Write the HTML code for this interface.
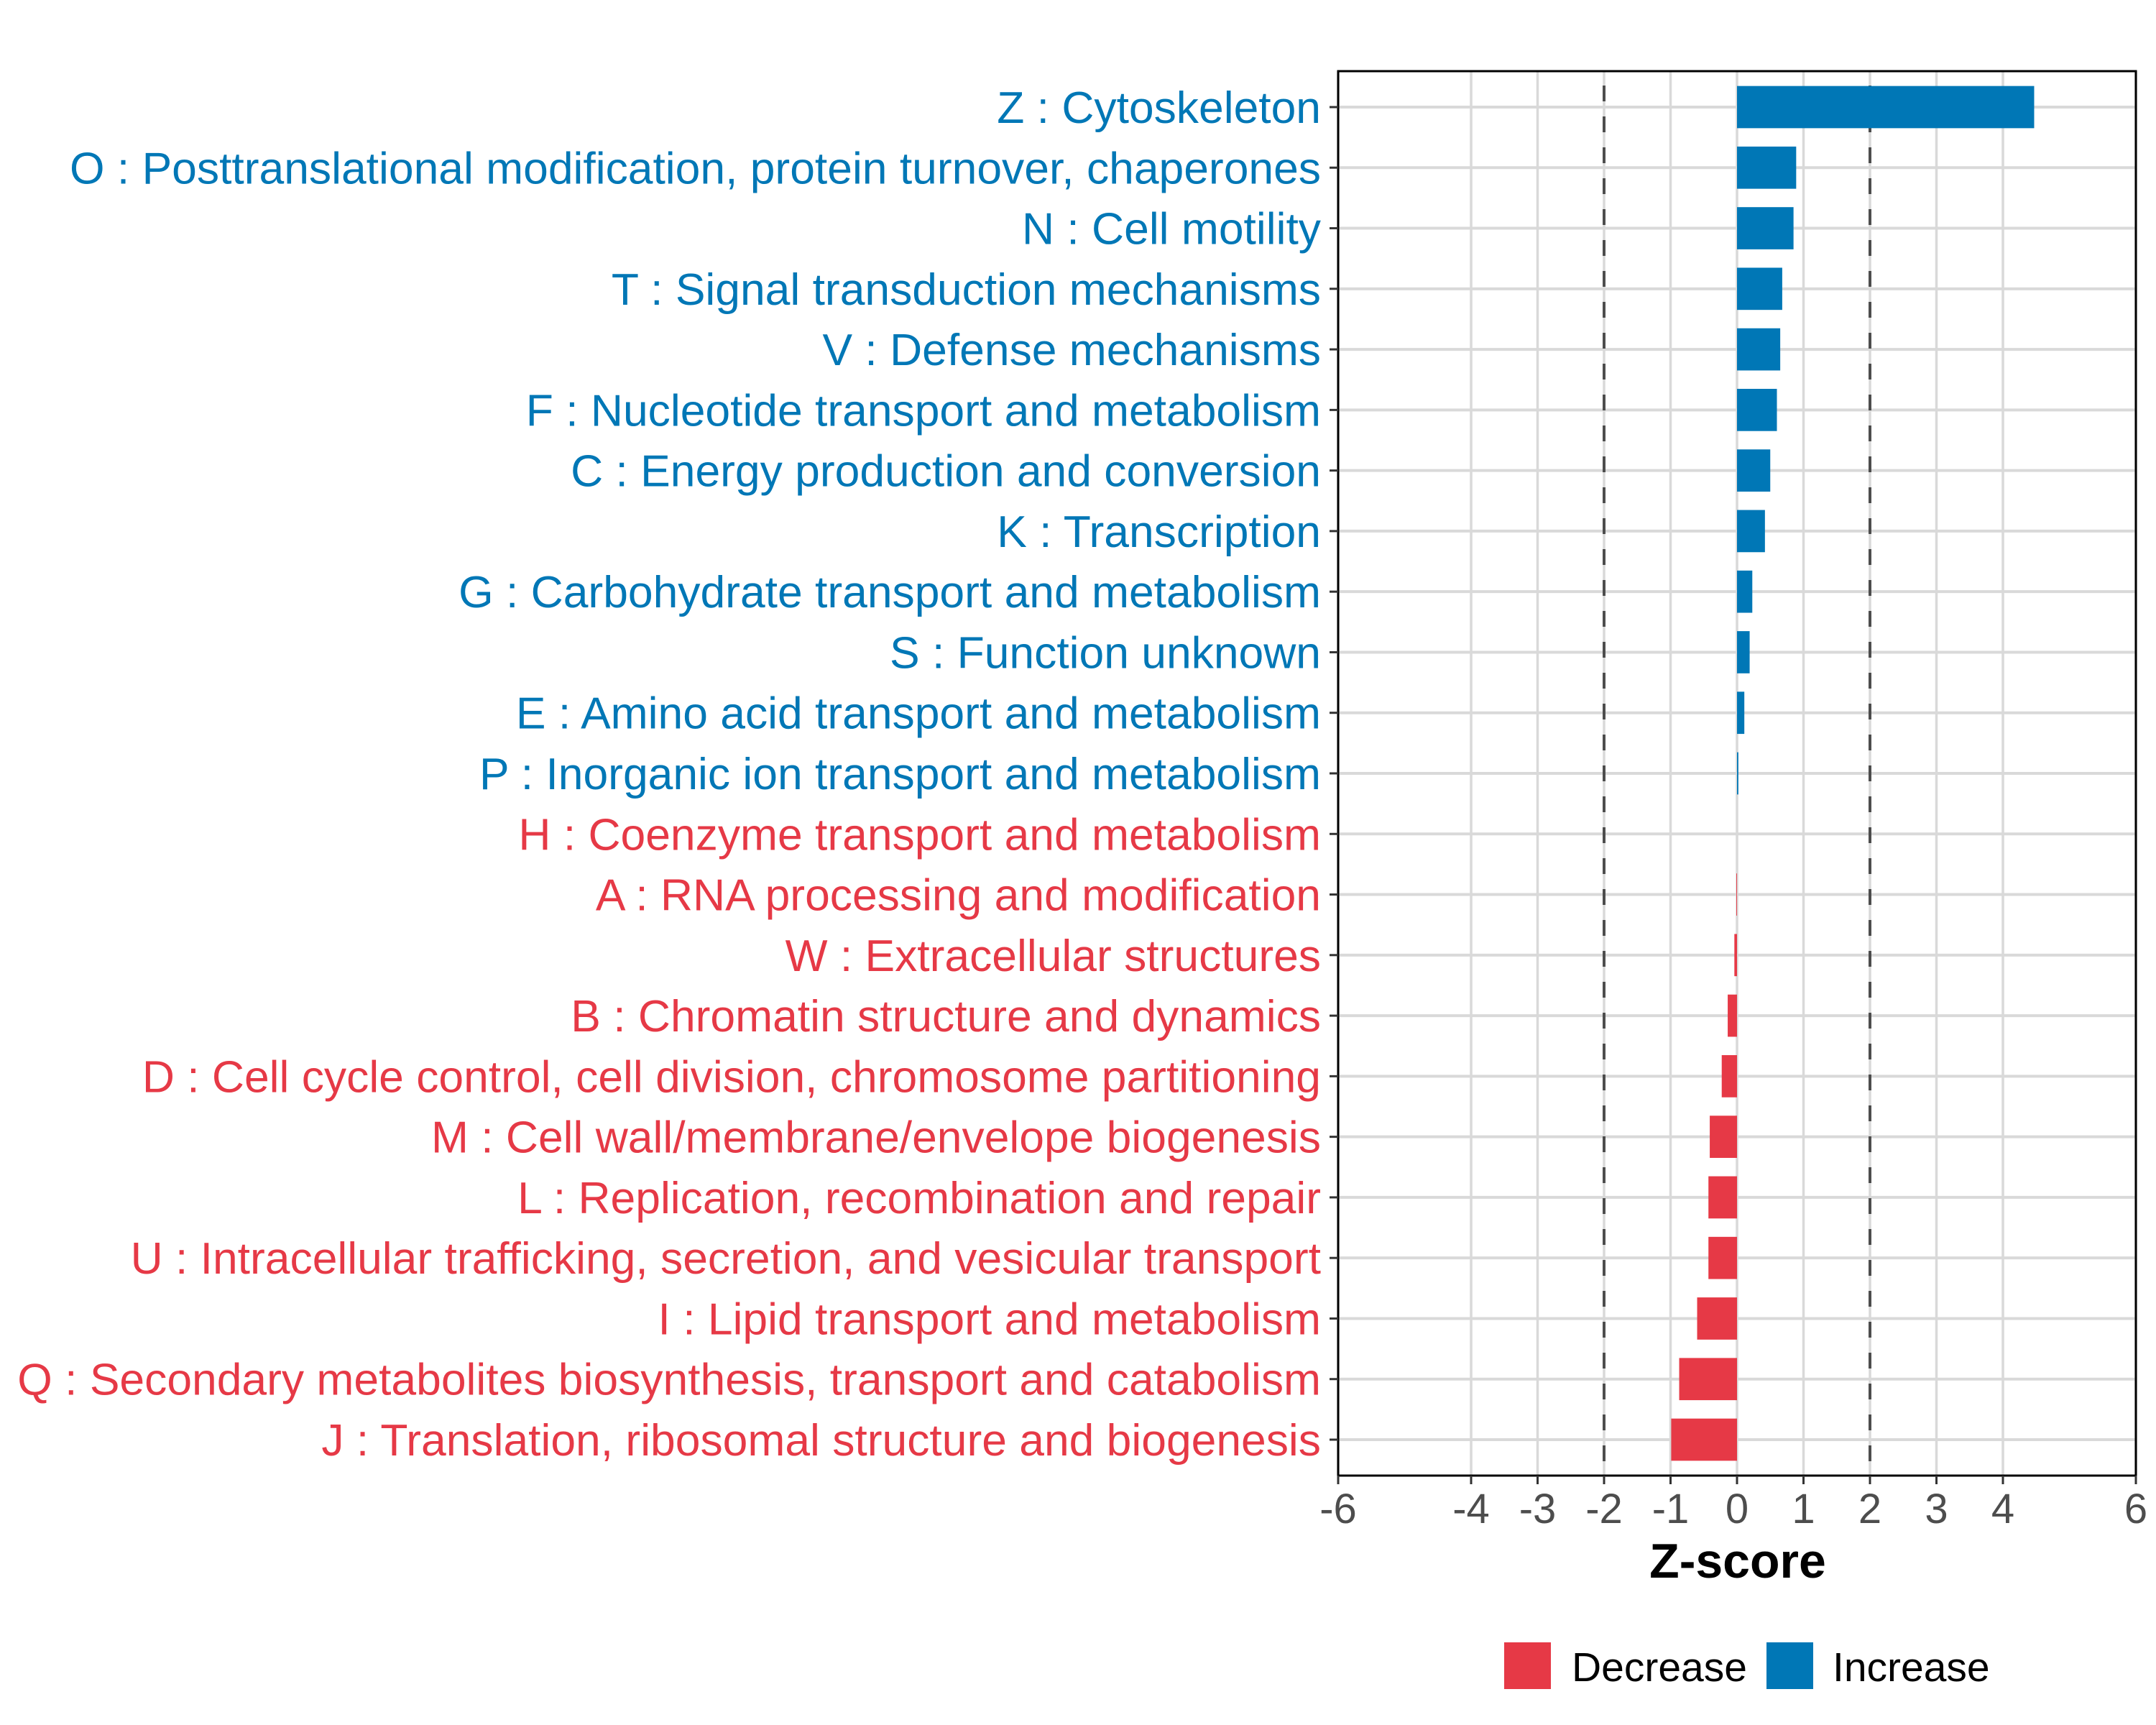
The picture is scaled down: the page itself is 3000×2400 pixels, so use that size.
<!DOCTYPE html>
<html><head><meta charset="utf-8"><style>html,body{margin:0;padding:0;background:#fff}svg{display:block}</style></head>
<body>
<svg id="chart" width="3000" height="2400" viewBox="0 0 3000 2400" xmlns="http://www.w3.org/2000/svg" font-family="'Liberation Sans', Arial, sans-serif">
<rect width="3000" height="2400" fill="#fff"/>
<g id="grid"></g><g id="bars"></g><g id="axes"></g>
<text x="2418" y="2195" font-size="68" font-weight="bold" text-anchor="middle" fill="#000">Z-score</text>
<g>
<rect x="2093" y="2285" width="65" height="65" fill="#E63946"/>
<text x="2187" y="2339" font-size="57" fill="#000">Decrease</text>
<rect x="2458" y="2285" width="65" height="65" fill="#0077B6"/>
<text x="2550" y="2339" font-size="57" fill="#000">Increase</text>
</g>
</svg>
<script>
const categories=["Z : Cytoskeleton","O : Posttranslational modification, protein turnover, chaperones","N : Cell motility","T : Signal transduction mechanisms","V : Defense mechanisms","F : Nucleotide transport and metabolism","C : Energy production and conversion","K : Transcription","G : Carbohydrate transport and metabolism","S : Function unknown","E : Amino acid transport and metabolism","P : Inorganic ion transport and metabolism","H : Coenzyme transport and metabolism","A : RNA processing and modification","W : Extracellular structures","B : Chromatin structure and dynamics","D : Cell cycle control, cell division, chromosome partitioning","M : Cell wall/membrane/envelope biogenesis","L : Replication, recombination and repair","U : Intracellular trafficking, secretion, and vesicular transport","I : Lipid transport and metabolism","Q : Secondary metabolites biosynthesis, transport and catabolism","J : Translation, ribosomal structure and biogenesis"];
const zScores=[4.47,0.89,0.85,0.68,0.65,0.6,0.5,0.42,0.23,0.19,0.11,0.02,0,-0.01,-0.04,-0.14,-0.23,-0.41,-0.43,-0.43,-0.6,-0.87,-0.99];
const directions=["Increase","Increase","Increase","Increase","Increase","Increase","Increase","Increase","Increase","Increase","Increase","Increase","Decrease","Decrease","Decrease","Decrease","Decrease","Decrease","Decrease","Decrease","Decrease","Decrease","Decrease"];
const xTicks=[-6,-4,-3,-2,-1,0,1,2,3,4,6];
const xTickLabels=["-6","-4","-3","-2","-1","0","1","2","3","4","6"];
const thresholds=[-2,2];

const NS="http://www.w3.org/2000/svg";
const L=1862,R=2972,T=99,B=2053;
const xMin=-6,xMax=6;
const x=v=>L+(v-xMin)/(xMax-xMin)*(R-L);
const rowTop=149,rowStep=(2003-149)/(categories.length-1);
const y=i=>rowTop+i*rowStep;
const colors={Increase:"#0077B6",Decrease:"#E63946"};
function mk(tag,attrs,parent){const e=document.createElementNS(NS,tag);for(const k in attrs)e.setAttribute(k,attrs[k]);parent.appendChild(e);return e;}
const grid=document.getElementById('grid'),bars=document.getElementById('bars'),axes=document.getElementById('axes');
mk('rect',{x:L,y:T,width:R-L,height:B-T,fill:'#fff'},grid);
xTicks.forEach((t,i)=>{
  const g=mk('line',{x1:x(t),x2:x(t),y1:T,y2:B,stroke:'#d9d9d9','stroke-width':3.5},grid);
  
  
});
categories.forEach((c,i)=>{
  const g=mk('line',{x1:L,x2:R,y1:y(i),y2:y(i),stroke:'#d9d9d9','stroke-width':4},grid);
  
  
});
thresholds.forEach(t=>{
  const d=mk('line',{x1:x(t),x2:x(t),y1:T,y2:B,stroke:'#4d4d4d','stroke-width':4,'stroke-dasharray':'22 21','stroke-dashoffset':'-20'},grid);
  
  
});
const bh=58.7;
zScores.forEach((v,i)=>{
  const x0=x(Math.min(0,v)),w=Math.abs(x(v)-x(0));
  const r=mk('rect',{x:x0,y:y(i)-bh/2,width:w,height:bh,fill:colors[directions[i]]},bars);
  
  
});
mk('rect',{x:L,y:T,width:R-L,height:B-T,fill:'none',stroke:'#000','stroke-width':3},axes);
xTicks.forEach((t,i)=>{
  mk('line',{x1:x(t),x2:x(t),y1:B,y2:B+12,stroke:'#333','stroke-width':3},axes);
  const tx=mk('text',{x:x(t),y:2119,'font-size':58,fill:'#4d4d4d','text-anchor':'middle'},axes);
  tx.textContent=xTickLabels[i];
  
  
});
categories.forEach((c,i)=>{
  mk('line',{x1:L-12,x2:L,y1:y(i),y2:y(i),stroke:'#333','stroke-width':3},axes);
  const tx=mk('text',{x:1838,y:y(i)+22,'font-size':62.4,fill:colors[directions[i]],'text-anchor':'end'},axes);
  tx.textContent=c;
  
  
});
</script>
</body></html>
